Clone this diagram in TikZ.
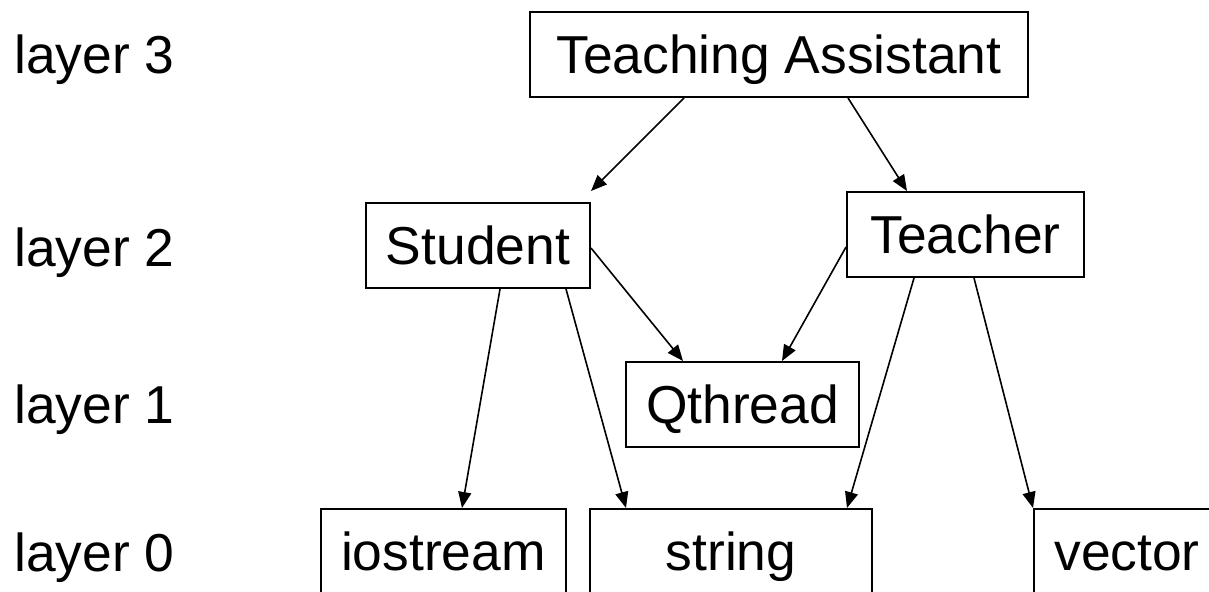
\documentclass[tikz,border=0pt]{standalone}
\usepackage{fontspec}
\setmainfont{Liberation Sans}
\usetikzlibrary{arrows.meta}

\begin{document}
\begin{tikzpicture}[>={Triangle[length=8pt,width=6.5pt]},x=0.5pt,y=-0.5pt,
    every node/.style={font=\fontsize{26.7}{32}\selectfont},
    class node/.style={draw,line width=1pt,rectangle,minimum height=42.5pt,inner sep=0pt,text height=19.1pt,text depth=0pt},
    layer node/.style={anchor=base west,inner sep=0pt}]

    \clip (0,0) rectangle (1209,592);

    \node[layer node] (l3) at (14,74) {layer 3};
    \node[layer node] (l2) at (14,267) {layer 2};
    \node[layer node] (l1) at (14,424) {layer 1};
    \node[layer node] (l0) at (14,571) {layer 0};

    \node[class node,minimum width=249pt] (ta) at (779,54.5) {Teaching Assistant};
    \node[class node,minimum width=112pt] (student) at (478,245.5) {Student};
    \node[class node,minimum width=118.5pt] (teacher) at (965.5,234.5) {Teacher};
    \node[class node,minimum width=116.5pt] (qthread) at (742.5,404.5) {Qthread};
    \node[class node,minimum width=122.5pt] (iostream) at (443.5,551.5) {iostream};
    \node[class node,minimum width=141pt] (string) at (731,551.5) {string};
    \node[class node,minimum width=93pt] (vector) at (1127,551.5) {vector};

    \path[->,line width=0.8pt]
        ([xshift=-47.5pt]ta.south) edge ([yshift=5.5pt]student.north east)
        ([xshift=34.5pt]ta.south) edge ([xshift=-29.25pt]teacher.north)
        ([yshift=-1.25pt]student.east) edge ([xshift=-29.75pt]qthread.north)
        ([yshift=-6.25pt]teacher.west) edge ([xshift=19.75pt]qthread.north)
        ([xshift=11pt]student.south) edge ([xshift=9.25pt]iostream.north)
        ([xshift=44pt]student.south) edge ([xshift=-52.5pt]string.north)
        ([xshift=-25.75pt]teacher.south) edge ([xshift=58pt]string.north)
        ([xshift=4.25pt]teacher.south) edge (vector.north west)
    ;
\end{tikzpicture}
\end{document}
